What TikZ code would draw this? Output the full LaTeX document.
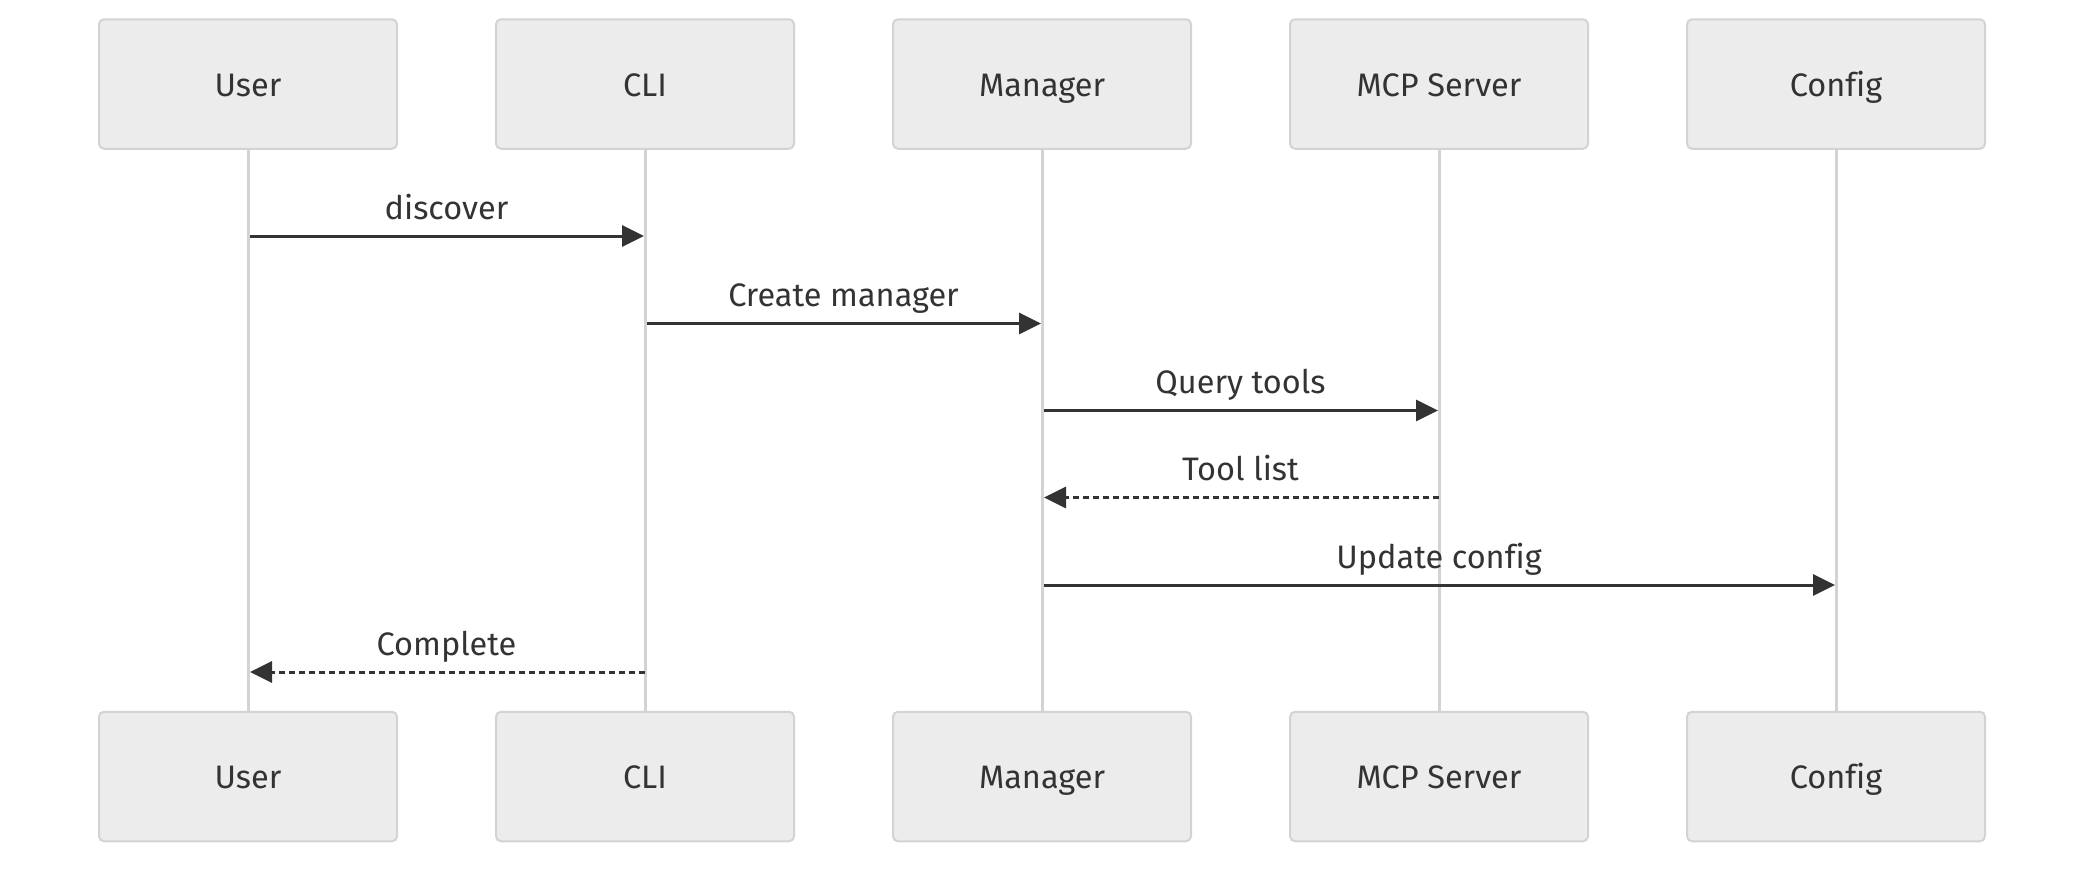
\documentclass[tikz,border=0pt]{standalone}
\usepackage{fontspec}
\setmainfont[Ligatures={NoCommon}]{Fira Sans}
\usetikzlibrary{arrows.meta}
\definecolor{txtc}{HTML}{333333}
\definecolor{boxfill}{HTML}{ECECEC}
\definecolor{boxline}{HTML}{D3D3D3}
\definecolor{lifec}{HTML}{D3D3D3}
\tikzset{
  actor/.style={draw=boxline, fill=boxfill, line width=2pt, rounded corners=5pt,
    minimum width=298pt, minimum height=129.5pt, inner sep=0pt,
    text height=24pt, text depth=0pt, text=txtc, font=\fontsize{32.5pt}{38pt}\selectfont},
  lifeline/.style={draw=lifec, line width=3pt},
  msg/.style={draw=txtc, line width=3pt, -{Triangle[length=22pt,width=21pt]}},
  reply/.style={msg, dash pattern=on 6pt off 4pt},
  msglabel/.style={anchor=base, text=txtc, inner sep=0pt, font=\fontsize{32.5pt}{38pt}\selectfont}
}
\begin{document}
\begin{tikzpicture}[x=1pt,y=-1pt]
\useasboundingbox (0,0) rectangle (2100,870);
% top actors
\node[actor] (tU) at (248,84) {User};
\node[actor] (tC) at (645,84) {CLI};
\node[actor] (tM) at (1042,84) {Manager};
\node[actor] (tS) at (1439,84) {MCP Server};
\node[actor] (tF) at (1836,84) {Config};
% bottom actors
\node[actor] (bU) at (248,776.5) {User};
\node[actor] (bC) at (645,776.5) {CLI};
\node[actor] (bM) at (1042,776.5) {Manager};
\node[actor] (bS) at (1439,776.5) {MCP Server};
\node[actor] (bF) at (1836,776.5) {Config};
% lifelines
\draw[lifeline] (tU.south) -- (bU.north);
\draw[lifeline] (tC.south) -- (bC.north);
\draw[lifeline] (tM.south) -- (bM.north);
\draw[lifeline] (tS.south) -- (bS.north);
\draw[lifeline] (tF.south) -- (bF.north);
% message anchor points
\coordinate (m1a) at (250,236);   \coordinate (m1b) at (644,236);
\coordinate (m2a) at (647,323.5); \coordinate (m2b) at (1041,323.5);
\coordinate (m3a) at (1044,410.5);\coordinate (m3b) at (1438,410.5);
\coordinate (m4a) at (1439,497.5);\coordinate (m4b) at (1044,497.5);
\coordinate (m5a) at (1044,585);  \coordinate (m5b) at (1835,585);
\coordinate (m6a) at (645,672);   \coordinate (m6b) at (250,672);
% messages
\draw[msg] (m1a) -- (m1b);
\node[msglabel] (l1) at (446.5,219) {discover};
\draw[msg] (m2a) -- (m2b);
\node[msglabel] (l2) at (843.5,306) {Create manager};
\draw[msg] (m3a) -- (m3b);
\node[msglabel] (l3) at (1240.5,393) {Query tools};
\draw[reply] (m4a) -- (m4b);
\node[msglabel] (l4) at (1240.5,480.5) {Tool list};
\draw[msg] (m5a) -- (m5b);
\node[msglabel] (l5) at (1439,568) {Update config};
\draw[reply] (m6a) -- (m6b);
\node[msglabel] (l6) at (446.5,655) {Complete};
\end{tikzpicture}
\end{document}
